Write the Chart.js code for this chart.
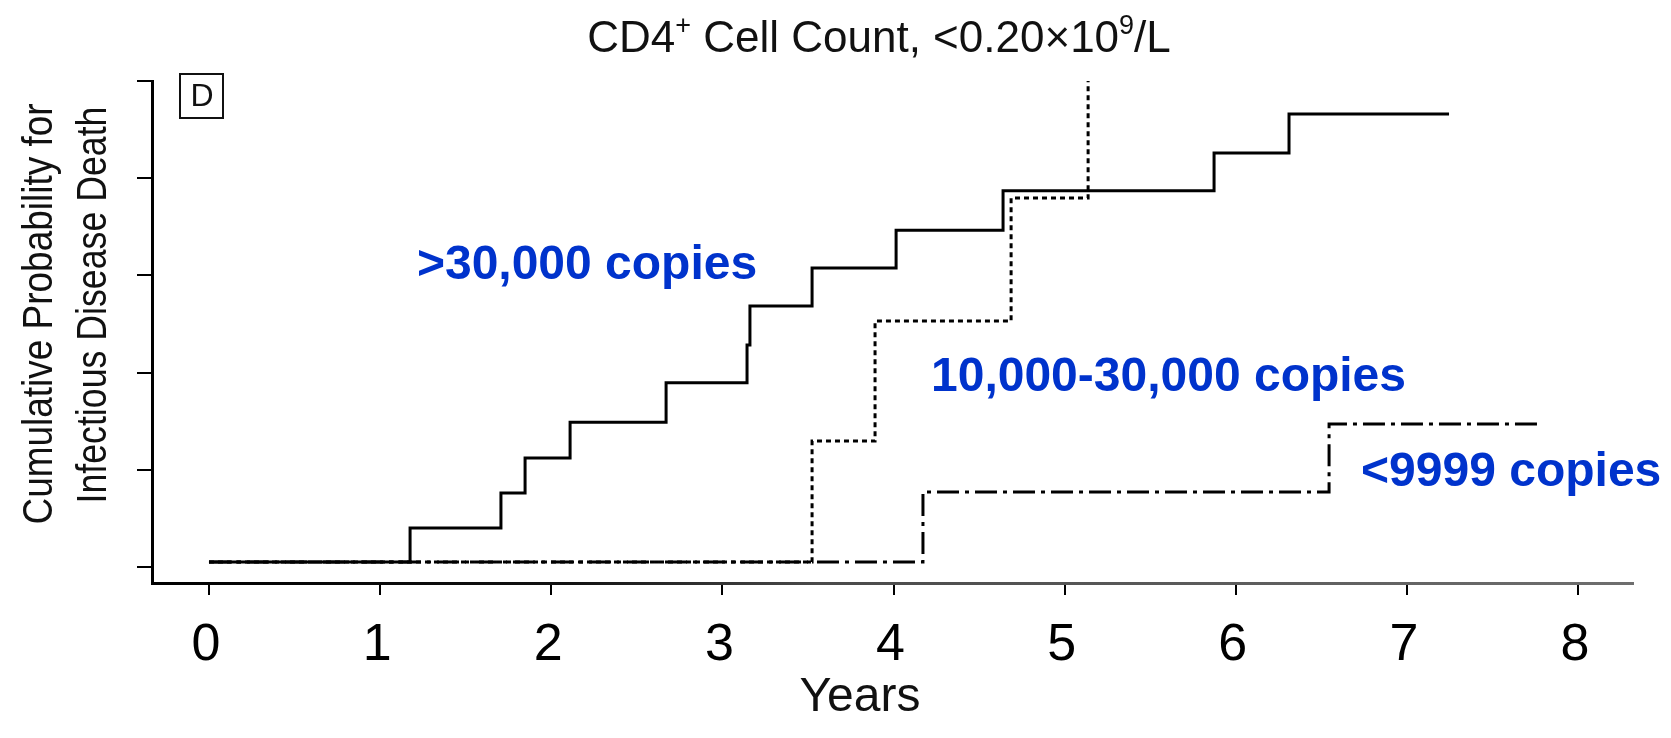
<!DOCTYPE html>
<html>
<head>
<meta charset="utf-8">
<title>Cumulative probability for infectious disease death</title>
<script src="https://cdn.jsdelivr.net/npm/chart.js@4.4.1/dist/chart.umd.min.js"></script>
<style>
  html, body { margin: 0; padding: 0; background: #ffffff; }
  canvas { display: block; }
</style>
</head>
<body>
<canvas id="chart" width="1671" height="738"></canvas>
<script>
// Kaplan-Meier style cumulative curves: event times (years) and cumulative probability after each event
const yearsHigh = [0, 1.175, 1.706, 1.847, 2.110, 2.671, 3.144, 3.161, 3.524, 4.015, 4.640, 5.873, 6.311, 7.246];
const probHigh  = [0.01, 0.080, 0.152, 0.224, 0.298, 0.379, 0.457, 0.537, 0.615, 0.693, 0.774, 0.852, 0.932, 0.932];

const yearsMid = [0, 3.524, 3.892, 4.687, 5.137];
const probMid  = [0.01, 0.259, 0.506, 0.759, 1.0];

const yearsLow = [0, 4.172, 6.545, 7.784];
const probLow  = [0.01, 0.154, 0.294, 0.294];

const seriesNames = ['>30,000 copies', '10,000-30,000 copies', '<9999 copies'];
// where each series name sits, in axis units (years, probability): left edge / baseline
const nameYears = [1.215, 4.219, 6.732];
const nameProbs = [0.593, 0.362, 0.167];

const xTickValues = [0, 1, 2, 3, 4, 5, 6, 7, 8];
const xTickLabels = ['0', '1', '2', '3', '4', '5', '6', '7', '8'];
const yTickValues = [0, 0.2, 0.4, 0.6, 0.8, 1.0];

const chartTitleParts = [['CD4', false], ['+', true], [' Cell Count, <0.20\u00d710', false], ['9', true], ['/L', false]];
const yTitleLines = ['Cumulative Probability for', 'Infectious Disease Death'];
const xTitle = 'Years';
const panelLetter = 'D';

const FONT = '"Liberation Sans", Arial, Helvetica, sans-serif';
const BLUE = '#0033cc';

const canvas = document.getElementById('chart');
const ctx = canvas.getContext('2d');

// the scanned bottom axis fades from black to grey towards the right
const axisFade = ctx.createLinearGradient(152, 0, 1633, 0);
axisFade.addColorStop(0, '#000000');
axisFade.addColorStop(0.28, '#111111');
axisFade.addColorStop(0.45, '#4a4a4a');
axisFade.addColorStop(1, '#6e6e6e');

const toPoints = (xs, ys) => xs.map((x, i) => ({ x: x, y: ys[i] }));

function drawRichCentered(c, parts, cx, baseline, size) {
  const supSize = Math.round(size * 0.62);
  let total = 0;
  const widths = parts.map(([t, sup]) => {
    c.font = `${sup ? supSize : size}px ${FONT}`;
    const w = c.measureText(t).width;
    total += w;
    return w;
  });
  let x = cx - total / 2;
  c.textAlign = 'left';
  c.textBaseline = 'alphabetic';
  parts.forEach(([t, sup], i) => {
    c.font = `${sup ? supSize : size}px ${FONT}`;
    c.fillText(t, x, sup ? baseline - size * 0.42 : baseline);
    x += widths[i];
  });
}

const annotationPlugin = {
  id: 'annotationText',
  afterDraw(chart) {
    const c = chart.ctx;
    const xs = chart.scales.x;
    const ys = chart.scales.y;
    c.save();

    // heading
    c.fillStyle = '#111111';
    drawRichCentered(c, chartTitleParts, 879, 52, 44);

    // boxed panel letter
    c.strokeStyle = '#111111';
    c.lineWidth = 2;
    c.strokeRect(180, 74, 43, 44);
    c.font = `32px ${FONT}`;
    c.textAlign = 'center';
    c.textBaseline = 'middle';
    c.fillText(panelLetter, 202, 97);

    // vertical axis title: two rotated, slightly condensed lines
    c.font = `42px ${FONT}`;
    c.textAlign = 'center';
    c.textBaseline = 'alphabetic';
    [[52, 314, 0.88], [106, 305, 0.85]].forEach(([bx, cy, squeeze], i) => {
      c.save();
      c.translate(bx, cy);
      c.rotate(-Math.PI / 2);
      c.scale(squeeze, 1);
      c.fillText(yTitleLines[i], 0, 0);
      c.restore();
    });

    // horizontal axis title
    c.font = `48px ${FONT}`;
    c.textAlign = 'center';
    c.fillText(xTitle, 860, 711);

    // series names
    c.fillStyle = BLUE;
    c.font = `bold 48px ${FONT}`;
    c.textAlign = 'left';
    seriesNames.forEach((name, i) => {
      c.fillText(name, xs.getPixelForValue(nameYears[i]), ys.getPixelForValue(nameProbs[i]));
    });
    c.restore();
  }
};

new Chart(ctx, {
  type: 'line',
  data: {
    datasets: [
      {
        label: seriesNames[0],
        data: toPoints(yearsHigh, probHigh),
        stepped: 'before',
        borderColor: '#000000',
        borderWidth: 3,
        pointRadius: 0,
        fill: false,
        order: 0
      },
      {
        label: seriesNames[1],
        data: toPoints(yearsMid, probMid),
        stepped: 'before',
        borderColor: '#000000',
        borderWidth: 3,
        borderDash: [5, 4],
        pointRadius: 0,
        fill: false,
        order: 1
      },
      {
        label: seriesNames[2],
        data: toPoints(yearsLow, probLow),
        stepped: 'before',
        borderColor: '#000000',
        borderWidth: 3,
        borderDash: [22, 6, 4, 6],
        pointRadius: 0,
        fill: false,
        order: 2
      }
    ]
  },
  options: {
    responsive: false,
    animation: false,
    devicePixelRatio: 1,
    layout: { padding: { left: 0, top: 81, right: 38, bottom: 0 } },
    plugins: {
      legend: { display: false },
      tooltip: { enabled: false },
      title: { display: false }
    },
    scales: {
      x: {
        type: 'linear',
        min: -0.333,
        max: 8.321,
        afterBuildTicks: (scale) => { scale.ticks = xTickValues.map(v => ({ value: v })); },
        afterFit: (scale) => { scale.height = 155; },
        grid: { drawOnChartArea: false, drawTicks: true, tickLength: 12, color: '#000000', lineWidth: 2 },
        border: { display: true, color: axisFade, width: 3 },
        ticks: {
          autoSkip: false,
          maxRotation: 0,
          padding: 19,
          labelOffset: -3,
          color: '#000000',
          font: { family: FONT, size: 52 },
          callback: (value, index) => xTickLabels[index]
        }
      },
      y: {
        type: 'linear',
        min: -0.033,
        max: 1.0,
        afterBuildTicks: (scale) => { scale.ticks = yTickValues.map(v => ({ value: v })); },
        afterFit: (scale) => { scale.width = 152; },
        grid: { drawOnChartArea: false, drawTicks: true, tickLength: 15, color: '#000000', lineWidth: 2 },
        border: { display: true, color: '#000000', width: 3 },
        ticks: { display: false }
      }
    }
  },
  plugins: [annotationPlugin]
});
</script>
</body>
</html>
